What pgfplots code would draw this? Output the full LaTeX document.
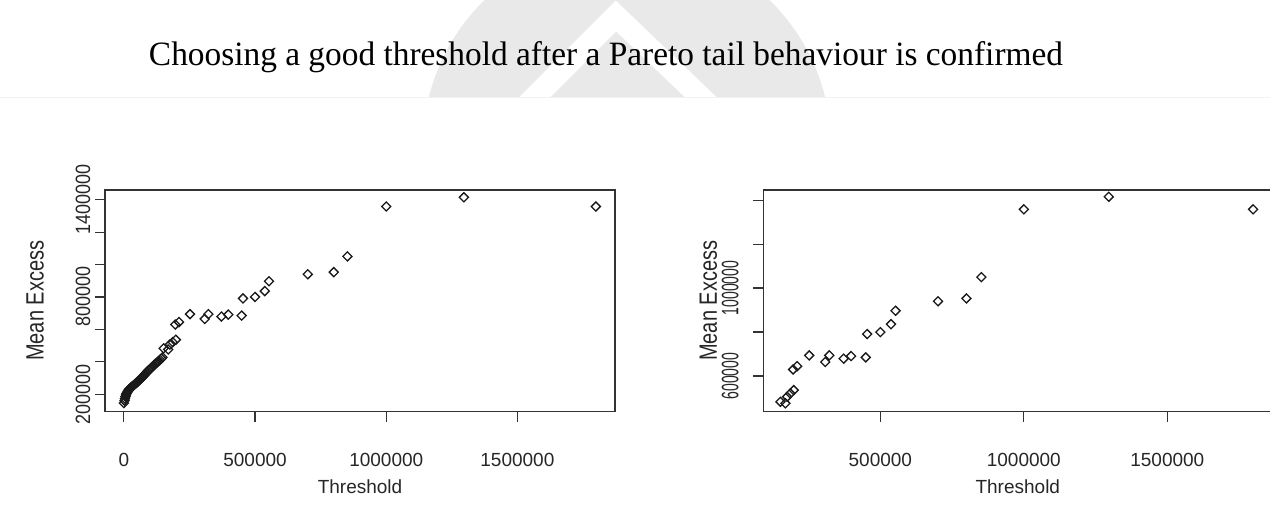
\documentclass[border=0pt]{standalone}
\usepackage{pgfplots}
\pgfplotsset{compat=1.18}
\usepackage{pgfplotstable}
\usepackage{graphicx}
\usepackage{fontspec}
\setmainfont{Liberation Sans}
\newfontfamily\titlefont{Liberation Serif}

% glyphs of the rotated labels are wider across than along
\newcommand{\vx}[1]{\scalebox{1}[1.15]{#1}}
\newcommand{\vr}[1]{\scalebox{1}[1.7]{#1}}
\newcommand{\vl}[1]{\scalebox{1}[1.25]{#1}}

% threshold u and mean excess e(u)
\pgfplotstableread{
u e
0 145000
2500 160000
4000 172000
6000 185000
8000 196000
10000 204000
12500 211000
15000 218000
18000 226000
21000 232000
24000 236000
27000 241000
30000 245000
34000 250000
38000 256000
42000 262000
46000 267000
50000 273000
54000 279000
58000 286000
62000 292000
66000 298000
70000 304000
74000 311000
78000 318000
82000 326000
86000 333000
90000 341000
94000 347000
98000 352000
103000 360000
108000 368000
113000 376000
118000 385000
123000 392000
128000 398000
133000 405000
138000 412000
143000 420000
147000 428000
151600 483000
169000 476000
175000 506000
186000 521000
198000 536000
196000 630000
210000 645000
252000 694000
308000 664000
322000 694000
372000 679000
398000 691000
449000 685000
454000 791000
500000 800000
537000 836000
553000 897000
701000 940000
800000 953000
852000 1050000
1000000 1358000
1296000 1415000
1799000 1358000
}\meanexcess

\pgfplotsset{
  rplot/.style={
    scale only axis, anchor=south west,
    axis line style={black!80, line width=0.65pt},
    tick style={black!80, line width=0.6pt},
    tick align=outside, major tick length=5pt,
    xtick pos=left, ytick pos=left,
    scaled ticks=false,
    xticklabel style={anchor=center, font=\fontsize{9.5pt}{11pt}\selectfont, text=black!85},
    xticklabel shift=19.15pt,
    yticklabel style={anchor=center, rotate=90, text=black!85},
    xlabel style={at={(axis description cs:0.5,-0.34)}, anchor=center, font=\fontsize{9.5pt}{11pt}\selectfont, text=black!85},
    ylabel style={anchor=center, font=\fontsize{10pt}{12pt}\selectfont, text=black!85},
    xlabel={Threshold},
    ylabel={\vl{Mean Excess}},
  },
  memarks/.style={only marks, mark=square, mark size=1.6pt,
    mark options={rotate=45, line width=0.65pt, draw=black!90, fill=none}},
}

\begin{document}
\begin{tikzpicture}
\path[use as bounding box] (0,0) rectangle (635pt,254pt);
\clip (0,0) rectangle (635pt,254pt);

% faint logo behind the heading
\begin{scope}
  \clip (0,205pt) rectangle (635pt,254pt);
  \fill[gray!17] (313.5pt,181pt) circle (102pt);
  \draw[white, line width=11pt, line join=miter] (262pt,200pt) -- (308pt,246pt) -- (356pt,200pt);
\end{scope}
\draw[gray!10, line width=0.5pt] (0,205pt) -- (635pt,205pt);

\node[anchor=base] at (303pt,221pt)
  {\resizebox{457pt}{12pt}{\titlefont Choosing a good threshold after a Pareto tail behaviour is confirmed}};

% all thresholds
\begin{axis}[rplot,
  at={(52.5pt,48.15pt)}, width=255pt, height=110.85pt,
  xmin=-72000, xmax=1872000, ymin=92000, ymax=1460000,
  xtick={0,500000,1000000,1500000},
  xticklabels={0,500000,1000000,1500000},
  ytick={200000,400000,600000,800000,1000000,1200000,1400000},
  yticklabels={\vx{200000},,,\vx{800000},,,\vx{1400000}},
  yticklabel style={font=\fontsize{9pt}{11pt}\selectfont},
  yticklabel shift=6pt,
  ylabel style={at={(axis description cs:-0.137,0.5)}},
]
\addplot[memarks] table[x=u, y=e] {\meanexcess};
\end{axis}

% thresholds above 150000
\begin{axis}[rplot,
  at={(381.65pt,48.15pt)}, width=254.5pt, height=110.85pt,
  xmin=92000, xmax=1866000, ymin=438000, ymax=1446000,
  xtick={500000,1000000,1500000},
  xticklabels={500000,1000000,1500000},
  ytick={600000,800000,1000000,1200000,1400000},
  yticklabels={\vr{600000},,\vr{1000000},,},
  yticklabel style={font=\fontsize{7pt}{8pt}\selectfont},
  yticklabel shift=11.5pt,
  ylabel style={at={(axis description cs:-0.108,0.5)}},
  restrict x to domain=150000:1900000,
]
\addplot[memarks] table[x=u, y=e] {\meanexcess};
\end{axis}
\end{tikzpicture}
\end{document}
